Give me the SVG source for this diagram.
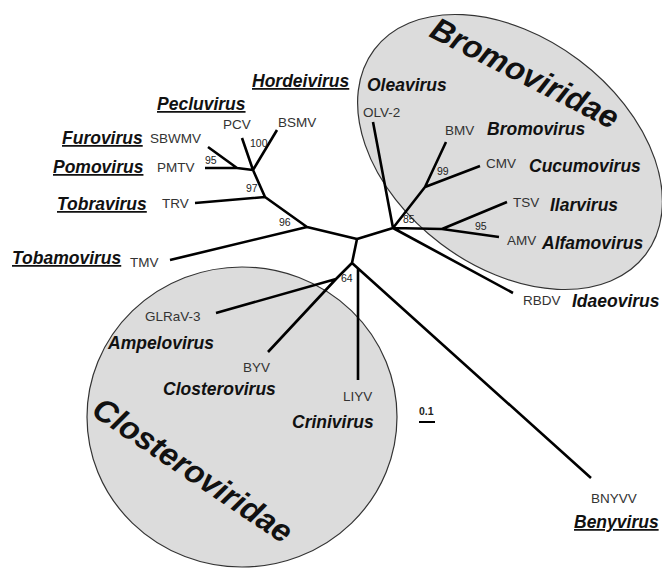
<svg xmlns="http://www.w3.org/2000/svg" width="662" height="570" viewBox="0 0 662 570">
<style>
.fam{fill:#dcdcdc;stroke:#333;stroke-width:1.2}
.famt{font-family:"Liberation Sans",Arial,sans-serif;font-weight:bold;font-style:italic;font-size:32px;fill:#111}
.br{fill:none;stroke:#000;stroke-width:2.6;stroke-linecap:butt;stroke-linejoin:round}
.lab{font-family:"Liberation Sans",Arial,sans-serif;font-size:13.5px;fill:#333}
.gen{font-family:"Liberation Sans",Arial,sans-serif;font-size:17.5px;font-weight:bold;font-style:italic;fill:#111}
.ul{text-decoration:underline}
.bs{font-family:"Liberation Sans",Arial,sans-serif;font-size:10.5px;fill:#222}
</style>
<rect width="662" height="570" fill="#fff"/>
<g id="bromoviridae">
<ellipse class="fam" cx="510" cy="152" rx="170" ry="115" transform="rotate(37 510 152)"/>
<text class="famt" transform="translate(428 36) rotate(27)">Bromoviridae</text>
</g>
<g id="closteroviridae">
<ellipse class="fam" cx="242" cy="417" rx="155" ry="150"/>
<text class="famt" transform="translate(90 414) rotate(34)">Closteroviridae</text>
</g>
<g id="connectors">
<path class="br" d="M357,239 L307,227 M307,227 L170,260 M307,227 L265,197 M265,197 L195,203 M265,197 L253,170 M253,170 L242,138 M253,170 L277,130 M253,170 L237,168 M237,168 L205,168 M237,168 L208,147"/>
<path class="br" d="M357,239 L393,228 M393,228 L373,122 M393,228 L425,187 M425,187 L446,142 M425,187 L480,166 M393,228 L442,229 M442,229 L507,202 M442,229 L499,237 M393,228 L513,293"/>
<path class="br" d="M357,239 L352,263 M352,263 L336,279 M336,279 L268,352 M336,279 L216,313 M352,263 L591,478 M358,269 L358,380"/>
</g>
<g id="n96"><text class="bs" x="279" y="226">96</text></g>
<g id="n97"><text class="bs" x="246" y="192">97</text></g>
<g id="n100"><text class="bs" x="250" y="147">100</text></g>
<g id="n95a"><text class="bs" x="205" y="164">95</text></g>
<g id="n85"><text class="bs" x="403" y="223">85</text></g>
<g id="n99"><text class="bs" x="437" y="175">99</text></g>
<g id="n95b"><text class="bs" x="475" y="230">95</text></g>
<g id="n64"><text class="bs" x="341" y="282">64</text></g>
<g id="bsmv"><text class="lab" x="278" y="127">BSMV</text><text class="gen ul" x="252" y="87">Hordeivirus</text></g>
<g id="pcv"><text class="lab" x="223" y="129">PCV</text><text class="gen ul" x="157" y="110">Pecluvirus</text></g>
<g id="sbwmv"><text class="lab" x="150" y="143">SBWMV</text><text class="gen ul" x="62" y="144">Furovirus</text></g>
<g id="pmtv"><text class="lab" x="157" y="172">PMTV</text><text class="gen ul" x="53" y="173">Pomovirus</text></g>
<g id="trv"><text class="lab" x="162" y="208">TRV</text><text class="gen ul" x="57" y="210">Tobravirus</text></g>
<g id="tmv"><text class="lab" x="130" y="267">TMV</text><text class="gen ul" x="12" y="264">Tobamovirus</text></g>
<g id="olv2"><text class="lab" x="363" y="117">OLV-2</text><text class="gen" x="367" y="91">Oleavirus</text></g>
<g id="bmv"><text class="lab" x="445" y="135">BMV</text><text class="gen" x="487" y="135">Bromovirus</text></g>
<g id="cmv"><text class="lab" x="486" y="168">CMV</text><text class="gen" x="529" y="172">Cucumovirus</text></g>
<g id="tsv"><text class="lab" x="513" y="207">TSV</text><text class="gen" x="550" y="211">Ilarvirus</text></g>
<g id="amv"><text class="lab" x="507" y="245">AMV</text><text class="gen" x="542" y="249">Alfamovirus</text></g>
<g id="rbdv"><text class="lab" x="523" y="305">RBDV</text><text class="gen" x="572" y="307">Idaeovirus</text></g>
<g id="glrav3"><text class="lab" x="145" y="321">GLRaV-3</text><text class="gen" x="108" y="349">Ampelovirus</text></g>
<g id="byv"><text class="lab" x="243" y="372">BYV</text><text class="gen" x="163" y="395">Closterovirus</text></g>
<g id="liyv"><text class="lab" x="343" y="401">LIYV</text><text class="gen" x="292" y="428">Crinivirus</text></g>
<g id="bnyvv"><text class="lab" x="591" y="503">BNYVV</text><text class="gen ul" x="574" y="528">Benyvirus</text></g>
<g id="scale"><text class="bs" x="419" y="415" font-weight="bold">0.1</text><line x1="419" y1="422" x2="435" y2="422" stroke="#000" stroke-width="2"/></g>
</svg>
